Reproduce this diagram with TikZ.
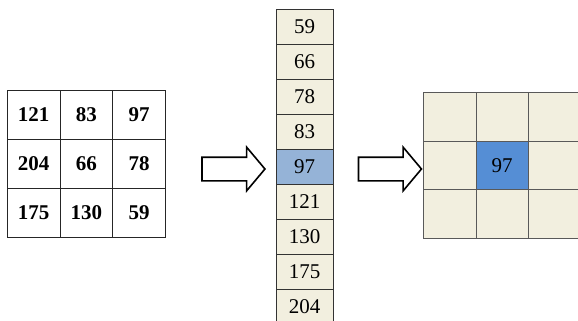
\documentclass[tikz,border=0pt]{standalone}
\usepackage{fontspec}
\setmainfont{Liberation Serif}
\usetikzlibrary{shapes.arrows}
\definecolor{cellbg}{HTML}{F2EFDF}
\definecolor{midblue}{HTML}{95B3D7}
\definecolor{hotblue}{HTML}{558ED5}

\begin{document}
\begin{tikzpicture}[x=1pt, y=-1pt, thin,
    win/.style = {draw=black!85, minimum width=52.7pt, minimum height=49pt, inner sep=0pt, outer sep=0pt, font=\fontsize{21}{21}\selectfont\bfseries},
    sorted/.style = {draw=black!80, fill=cellbg, minimum width=57.5pt, minimum height=35pt, inner sep=0pt, outer sep=0pt, font=\fontsize{21}{21}\selectfont},
    result/.style = {draw=black!65, fill=cellbg, minimum width=52.5pt, minimum height=48.7pt, inner sep=0pt, outer sep=0pt, font=\fontsize{21}{21}\selectfont},
    pointer/.style = {draw, line width=1.6pt, single arrow, single arrow head extend=10pt, single arrow tip angle=100, minimum height=63pt, inner xsep=0pt, inner ysep=11pt}]
    \useasboundingbox (0,0) rectangle (578,321);
    % Window
    \node[win] (w11) at (33.6, 114.5) {121};
    \node[win] (w12) at (86.3, 114.5) {83};
    \node[win] (w13) at (139, 114.5) {97};
    \node[win] (w21) at (33.6, 163.5) {204};
    \node[win] (w22) at (86.3, 163.5) {66};
    \node[win] (w23) at (139, 163.5) {78};
    \node[win] (w31) at (33.6, 212.5) {175};
    \node[win] (w32) at (86.3, 212.5) {130};
    \node[win] (w33) at (139, 212.5) {59};

    % Sorted values
    \node[sorted] (s1) at (304.5, 26.8) {59};
    \node[sorted] (s2) at (304.5, 61.8) {66};
    \node[sorted] (s3) at (304.5, 96.8) {78};
    \node[sorted] (s4) at (304.5, 131.7) {83};
    \node[sorted, fill=midblue] (s5) at (304.5, 166.7) {97};
    \node[sorted] (s6) at (304.5, 201.7) {121};
    \node[sorted] (s7) at (304.5, 236.7) {130};
    \node[sorted] (s8) at (304.5, 271.6) {175};
    \node[sorted] (s9) at (304.5, 306.6) {204};

    % Output
    \node[result] (r11) at (449.5, 116.5) {};
    \node[result] (r12) at (502, 116.5) {};
    \node[result] (r13) at (554.5, 116.5) {};
    \node[result] (r21) at (449.5, 165.2) {};
    \node[result, fill=hotblue] (r22) at (502, 165.2) {97};
    \node[result] (r23) at (554.5, 165.2) {};
    \node[result] (r31) at (449.5, 213.9) {};
    \node[result] (r32) at (502, 213.9) {};
    \node[result] (r33) at (554.5, 213.9) {};

    % Arrows
    \node[pointer] (p1) at (228.5, 169) {};
    \node[pointer] (p2) at (385, 169) {};
\end{tikzpicture}
\end{document}
